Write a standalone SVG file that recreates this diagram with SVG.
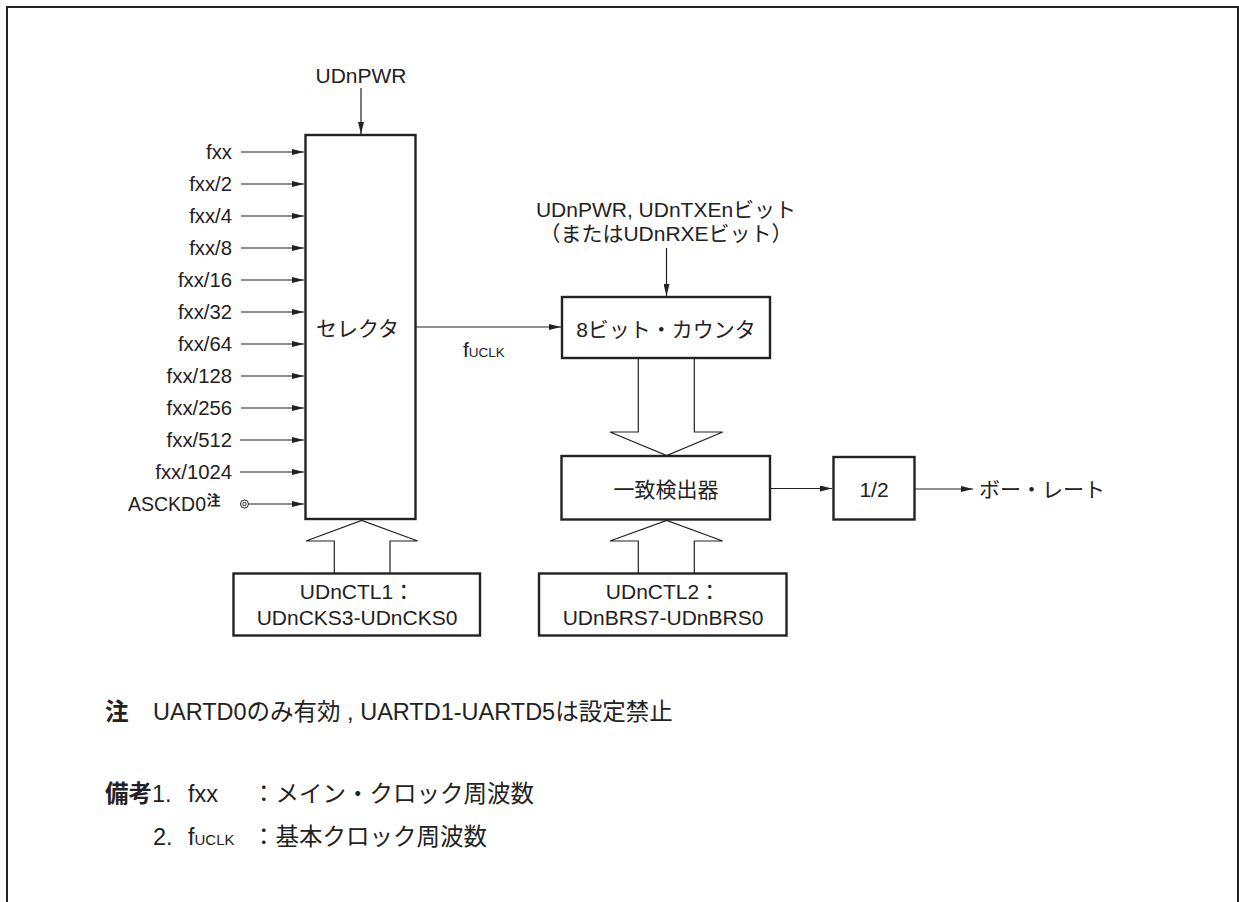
<svg xmlns="http://www.w3.org/2000/svg" width="1239" height="902" viewBox="0 0 1239 902">
<style>
text{font-family:"Liberation Sans","Noto Sans CJK JP",sans-serif;fill:#222;font-size:21px}
.box{fill:#fff;stroke:#222;stroke-width:2.4}
.ln{stroke:#222;stroke-width:1.2;fill:none}
.ha{fill:#fff;stroke:#222;stroke-width:1.2}
.r{text-anchor:end}
.m{text-anchor:middle}
.b{font-weight:bold}
.sm{font-size:13.5px}
.in{font-size:20.3px}
.as{font-size:19.5px}
.sup{font-size:14px;font-weight:bold}
.nt{font-size:23.5px}
.nts{font-size:15px}
</style>
<defs>
<marker id="ar" viewBox="0 0 12 6" refX="12" refY="3" markerWidth="12" markerHeight="6" markerUnits="userSpaceOnUse" orient="auto">
<path d="M0,0 L12,3 L0,6 Z" fill="#222"/>
</marker>
</defs>
<rect x="7" y="7" width="1231" height="1000" fill="none" stroke="#222" stroke-width="2"/>

<g id="connectors">
<line class="ln" x1="361" y1="88" x2="361" y2="134" marker-end="url(#ar)"/>
<line class="ln" x1="241" y1="152" x2="304" y2="152" marker-end="url(#ar)"/>
<line class="ln" x1="241" y1="184" x2="304" y2="184" marker-end="url(#ar)"/>
<line class="ln" x1="241" y1="216" x2="304" y2="216" marker-end="url(#ar)"/>
<line class="ln" x1="241" y1="248" x2="304" y2="248" marker-end="url(#ar)"/>
<line class="ln" x1="241" y1="280" x2="304" y2="280" marker-end="url(#ar)"/>
<line class="ln" x1="241" y1="312" x2="304" y2="312" marker-end="url(#ar)"/>
<line class="ln" x1="241" y1="344" x2="304" y2="344" marker-end="url(#ar)"/>
<line class="ln" x1="241" y1="376" x2="304" y2="376" marker-end="url(#ar)"/>
<line class="ln" x1="241" y1="408" x2="304" y2="408" marker-end="url(#ar)"/>
<line class="ln" x1="240" y1="440" x2="304" y2="440" marker-end="url(#ar)"/>
<line class="ln" x1="240" y1="472" x2="304" y2="472" marker-end="url(#ar)"/>
<line class="ln" x1="248.5" y1="504" x2="304" y2="504" marker-end="url(#ar)"/>
<circle cx="244.5" cy="504" r="4" fill="#fff" stroke="#222" stroke-width="1"/>
<circle cx="244.5" cy="504" r="1.7" fill="none" stroke="#222" stroke-width="0.9"/>
<line class="ln" x1="416" y1="327" x2="561" y2="327" marker-end="url(#ar)"/>
<line class="ln" x1="666.5" y1="248" x2="666.5" y2="296" marker-end="url(#ar)"/>
<line class="ln" x1="771" y1="488.5" x2="832" y2="488.5" marker-end="url(#ar)"/>
<line class="ln" x1="915" y1="489" x2="973" y2="489" marker-end="url(#ar)"/>
<path class="ha" d="M334.3,573 L334.3,541 L306,541 L361.7,520.5 L417.7,541 L390,541 L390,573"/>
<path class="ha" d="M638.3,358.5 L638.3,432 L610,432 L666.7,455.5 L722.7,432 L694.3,432 L694.3,358.5"/>
<path class="ha" d="M638.3,573 L638.3,541 L610,541 L666.7,520.5 L722.7,541 L694.3,541 L694.3,573"/>
</g>

<g id="inputs">
<text class="m" x="361" y="83">UDnPWR</text>
<text class="r in" x="232" y="159">fxx</text>
<text class="r in" x="232" y="191">fxx/2</text>
<text class="r in" x="232" y="223">fxx/4</text>
<text class="r in" x="232" y="255">fxx/8</text>
<text class="r in" x="232" y="287">fxx/16</text>
<text class="r in" x="232" y="319">fxx/32</text>
<text class="r in" x="232" y="351">fxx/64</text>
<text class="r in" x="232" y="383">fxx/128</text>
<text class="r in" x="232" y="415">fxx/256</text>
<text class="r in" x="232" y="447">fxx/512</text>
<text class="r in" x="232" y="479">fxx/1024</text>
<text class="r as" x="206" y="511">ASCKD0</text>
<text class="sup" x="206.5" y="505">注</text>
</g>

<g id="selector">
<rect class="box" x="305.5" y="135" width="110" height="384"/>
<text class="m" x="357.5" y="336">セレクタ</text>
</g>

<g id="fuclk-label">
<text x="463" y="357">f<tspan class="sm">UCLK</tspan></text>
</g>

<g id="counter">
<text class="m" x="666" y="217">UDnPWR, UDnTXEnビット</text>
<text class="m" x="666" y="241">（またはUDnRXEビット）</text>
<rect class="box" x="562" y="297" width="208" height="61"/>
<text class="m" x="666" y="337">8ビット・カウンタ</text>
</g>

<g id="detector">
<rect class="box" x="561.5" y="456" width="208.5" height="63.5"/>
<text class="m" x="666" y="497">一致検出器</text>
</g>

<g id="half">
<rect class="box" x="833.5" y="457" width="81" height="62.5"/>
<text class="m" x="874" y="497">1/2</text>
</g>

<g id="baudrate">
<text x="979" y="497">ボー・レート</text>
</g>

<g id="ctl1">
<rect class="box" x="233.5" y="573.5" width="246.5" height="62"/>
<text class="m" x="357" y="599">UDnCTL1：</text>
<text class="m" x="357" y="625">UDnCKS3-UDnCKS0</text>
</g>

<g id="ctl2">
<rect class="box" x="539" y="573.5" width="247.5" height="62"/>
<text class="m" x="663" y="599">UDnCTL2：</text>
<text class="m" x="663" y="625">UDnBRS7-UDnBRS0</text>
</g>

<g id="notes">
<text class="b nt" x="105" y="720">注</text>
<text class="nt" x="153" y="720">UARTD0のみ有効 , UARTD1-UARTD5は設定禁止</text>
<text class="nt" x="105" y="802"><tspan class="b">備考</tspan>1.</text>
<text class="nt" x="188" y="802">fxx</text>
<text class="nt" x="252" y="802">：メイン・クロック周波数</text>
<text class="nt" x="153" y="845">2.</text>
<text class="nt" x="188" y="845">f<tspan class="nts">UCLK</tspan></text>
<text class="nt" x="252" y="845">：基本クロック周波数</text>
</g>
</svg>
